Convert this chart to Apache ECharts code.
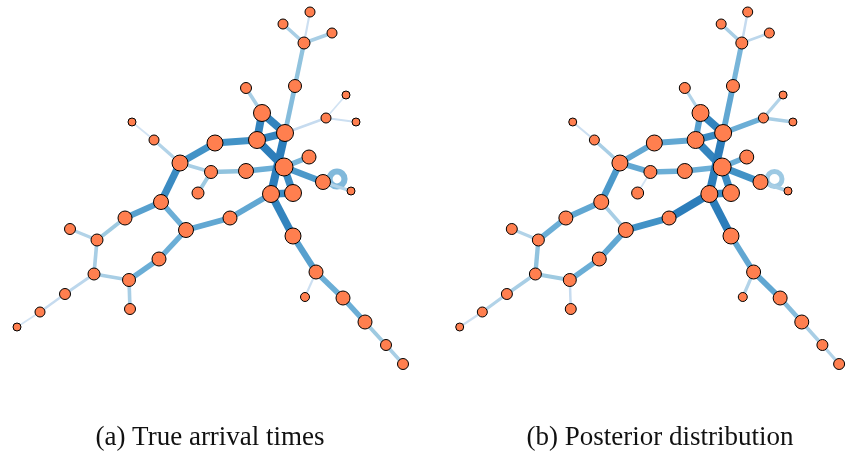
<!DOCTYPE html>
<html>
<head>
<meta charset="utf-8">
<script src="https://cdn.jsdelivr.net/npm/echarts@6/dist/echarts.min.js"></script>
<style>html,body{margin:0;padding:0;background:#fff}#c{width:846px;height:452px}</style>
</head>
<body>
<div id="c"></div>
<script>
// Node positions (picture units)
const nodeX = [310,283,332,304,295,246,262,346,326,356,132,154,285,257,215,180,309,284,246,211,323,351,198,271,293,161,125,70,97,186,230,293,159,94,129,65,316,305,343,130,40,365,17,386,403];
const nodeY = [12,24,33,43,86,88,113,95,118,122,122,140,133,140,143,163,157,167,171,172,182,191,193,194,193,202,218,229,240,230,218,236,259,274,280,294,272,297,298,309,312,322,327,345,364];
// Node magnitude (radius-like value)
const nodeMag = [5,5,5,6,6.5,5.5,8.5,4,5,4,4,5,8.5,8.5,8,8,7,9,7.5,6.5,7.5,4,6,8.5,8.5,7.5,7,5.5,6,7.5,7,8,7,6,6.5,5.5,7,4.5,7,5.5,5,7,4,5.5,5.5];
// Edges (1-based node ids)
const edgeSrc = [1,2,3,4,5,6,7,7,13,13,9,9,11,12,14,15,16,20,19,20,14,13,18,18,21,18,24,16,26,27,28,29,34,34,36,41,35,35,33,30,30,31,24,32,37,37,39,42,44];
const edgeDst = [4,4,4,5,13,7,13,14,14,9,8,10,12,16,15,16,20,19,18,23,18,24,17,21,22,25,25,26,27,29,29,34,35,36,41,43,40,33,30,26,31,24,32,37,38,39,42,44,45];
// Edge strengths: panel (a) true arrival times, panel (b) posterior
const weightsA = [0.15,0.35,0.35,0.45,0.5,0.35,0.9,0.9,0.9,0.2,0.1,0.15,0.1,0.3,0.8,0.8,0.35,0.45,0.6,0.4,0.95,0.95,0.55,0.75,0.3,0.85,0.85,0.85,0.7,0.4,0.3,0.35,0.35,0.25,0.2,0.1,0.35,0.6,0.6,0.6,0.65,0.65,0.9,0.7,0.15,0.6,0.6,0.4,0.35];
const weightsB = [0.2,0.35,0.25,0.55,0.65,0.3,0.9,0.7,0.85,0.6,0.3,0.35,0.15,0.35,0.65,0.65,0.65,0.6,0.6,0.1,0.9,0.95,0.6,0.8,0.35,0.85,0.85,0.75,0.65,0.6,0.3,0.45,0.4,0.35,0.3,0.15,0.2,0.6,0.65,0.35,0.8,0.95,0.95,0.65,0.3,0.65,0.5,0.35,0.3];
// Self-loop on node 21
const loopNode = 21;
const loopA = 0.65;
const loopB = 0.5;
const captions = ['(a) True arrival times', '(b) Posterior distribution'];

const stops = [[222,235,247],[198,219,239],[158,202,225],[107,174,214],[66,146,198],[36,118,182]];
function blue(v){
  const t = Math.max(0, Math.min(1, v)) * (stops.length - 1);
  const i = Math.min(stops.length - 2, Math.floor(t));
  const f = t - i;
  const c = stops[i].map((a, k) => Math.round(a + (stops[i+1][k] - a) * f));
  return 'rgb(' + c.join(',') + ')';
}
function width(v){ return 1 + 7.5 * v; }

function nodes(){
  return nodeX.map((x, i) => ({ name: 'n' + (i+1), value: [x, nodeY[i]], symbolSize: nodeMag[i] * 2 }));
}
function links(w){
  return edgeSrc.map((s, i) => ({
    source: 'n' + s, target: 'n' + edgeDst[i],
    lineStyle: { width: width(w[i]), color: blue(w[i]), opacity: 1 }
  }));
}
function panel(idx, w, lw){
  return [{
    type: 'scatter', xAxisIndex: idx, yAxisIndex: idx, z: 1, silent: true,
    data: [[nodeX[loopNode-1], nodeY[loopNode-1]]],
    symbol: 'circle', symbolSize: 15, symbolOffset: [14, -3],
    itemStyle: { color: 'rgba(0,0,0,0)', borderColor: blue(lw), borderWidth: width(lw) * 1.05 }
  },{
    type: 'graph', coordinateSystem: 'cartesian2d', xAxisIndex: idx, yAxisIndex: idx, z: 2,
    data: nodes(), links: links(w), silent: true,
    itemStyle: { color: '#ff7f4f', borderColor: '#000', borderWidth: 1 },
    label: { show: false }
  }];
}
const axisX = (i) => ({ type: 'value', gridIndex: i, min: 0, max: 410, show: false });
const axisY = (i) => ({ type: 'value', gridIndex: i, min: 0, max: 400, inverse: true, show: false });

const chart = echarts.init(document.getElementById('c'));
chart.setOption({
  animation: false,
  backgroundColor: '#fff',
  grid: [{ left: 0, top: 0, width: 410, height: 400 }, { left: 443, top: 0, width: 410, height: 400 }],
  xAxis: [axisX(0), axisX(1)],
  yAxis: [axisY(0), axisY(1)],
  series: panel(0, weightsA, loopA).concat(panel(1, weightsB, loopB)),
  graphic: [
    { type: 'text', x: 210, y: 438, style: { text: captions[0], font: '27px "Liberation Serif"', fill: '#111', textAlign: 'center', textVerticalAlign: 'middle' } },
    { type: 'text', x: 660, y: 438, style: { text: captions[1], font: '27px "Liberation Serif"', fill: '#111', textAlign: 'center', textVerticalAlign: 'middle' } }
  ]
});
</script>
</body>
</html>
